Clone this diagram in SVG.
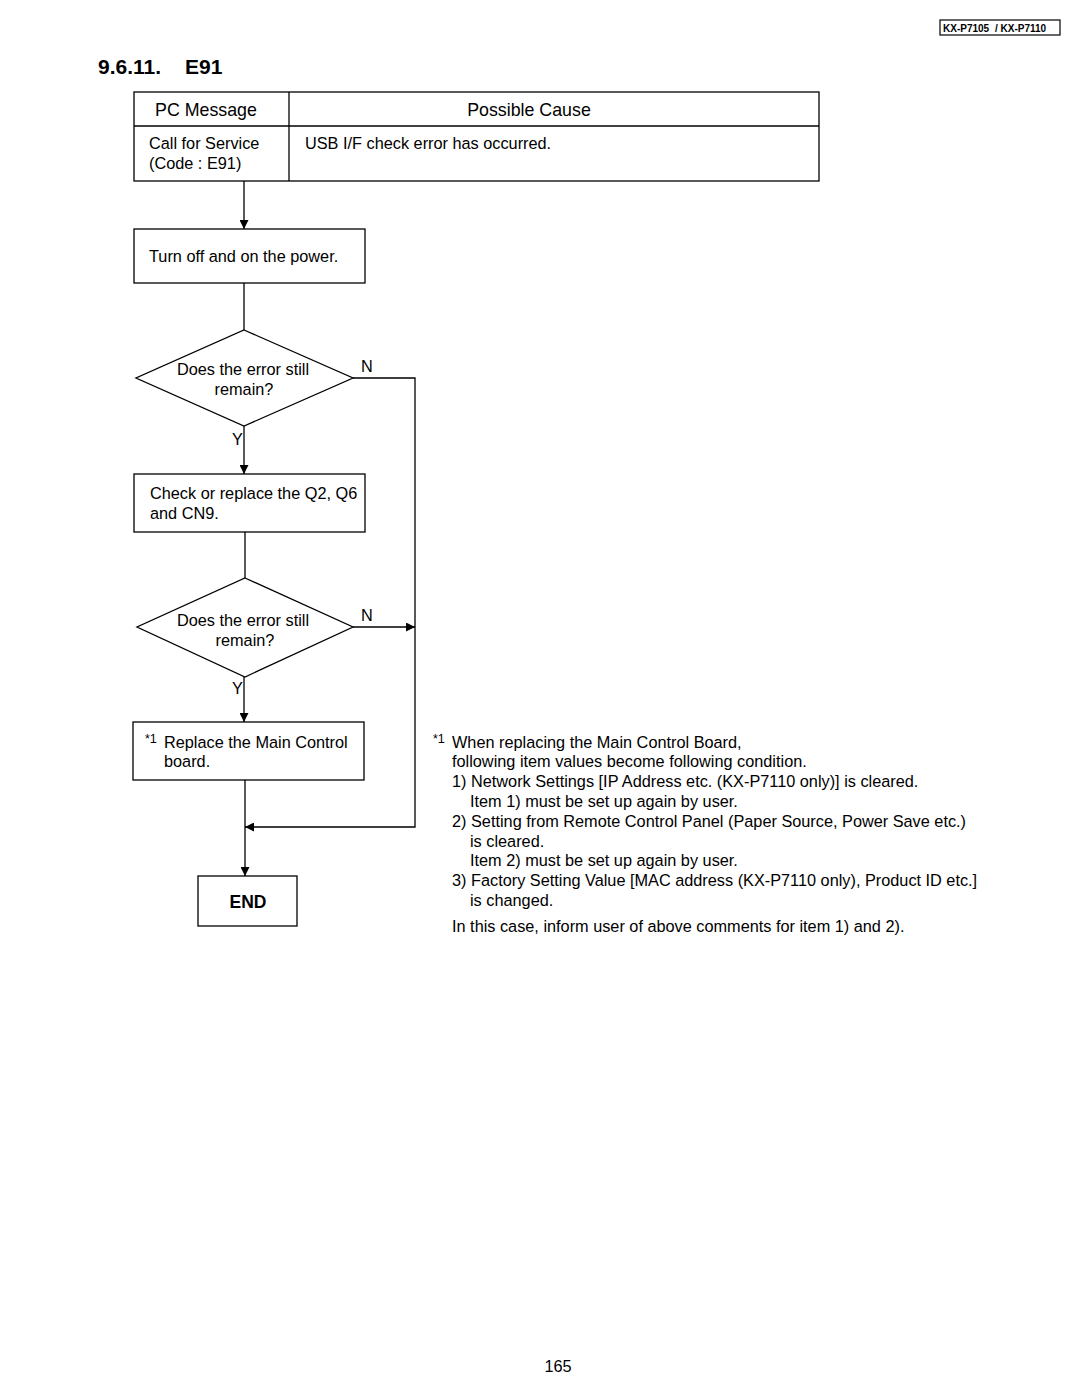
<svg xmlns="http://www.w3.org/2000/svg" width="1080" height="1397" viewBox="0 0 1080 1397">
<style>
text{font-family:"Liberation Sans",Arial,sans-serif;fill:#000}
.t{font-size:16.3px}
.h{font-size:17.8px}
.s{font-size:12.5px}
.box{fill:#fff;stroke:#000;stroke-width:1.3}
.ln{fill:none;stroke:#000;stroke-width:1.3}
</style>
<defs>
<marker id="ah" viewBox="0 0 10 10" refX="10" refY="5" markerWidth="9" markerHeight="9" markerUnits="userSpaceOnUse" orient="auto">
<path d="M0,0 L10,5 L0,10 z" fill="#000"/>
</marker>
</defs>
<rect width="1080" height="1397" fill="#fff"/>
<g id="header">
<rect x="940" y="20" width="120" height="15" fill="#fff" stroke="#000" stroke-width="1.2"/>
<text x="943" y="31.5" font-size="10" font-weight="bold">KX-P7105</text>
<text x="995" y="31.5" font-size="10" font-weight="bold">/ KX-P7110</text>
</g>
<g id="title">
<text x="98" y="74" font-size="21" font-weight="bold">9.6.11.</text>
<text x="185" y="74" font-size="21" font-weight="bold">E91</text>
</g>
<g id="table">
<rect class="box" x="134" y="92" width="685" height="89"/>
<line class="ln" x1="134" y1="126" x2="819" y2="126"/>
<line class="ln" x1="289" y1="92" x2="289" y2="181"/>
<text class="h" x="206" y="116" text-anchor="middle">PC Message</text>
<text class="h" x="529" y="116" text-anchor="middle">Possible Cause</text>
<text class="t" x="149" y="149">Call for Service</text>
<text class="t" x="149" y="169">(Code : E91)</text>
<text class="t" x="305" y="149">USB I/F check error has occurred.</text>
</g>
<g id="connectors">
<line class="ln" x1="244" y1="181" x2="244" y2="229" marker-end="url(#ah)"/>
<line class="ln" x1="244" y1="283" x2="244" y2="330"/>
<polyline class="ln" points="353,378 415,378 415,827 245,827" marker-end="url(#ah)"/>
<line class="ln" x1="244" y1="426" x2="244" y2="474" marker-end="url(#ah)"/>
<line class="ln" x1="245" y1="532" x2="245" y2="578"/>
<line class="ln" x1="353" y1="627" x2="415" y2="627" marker-end="url(#ah)"/>
<line class="ln" x1="244" y1="677" x2="244" y2="722" marker-end="url(#ah)"/>
<line class="ln" x1="245" y1="780" x2="245" y2="876" marker-end="url(#ah)"/>
<text class="t" x="361" y="372">N</text>
<text class="t" x="232" y="445">Y</text>
<text class="t" x="361" y="621">N</text>
<text class="t" x="232" y="694">Y</text>
</g>
<g id="n1">
<rect class="box" x="134" y="229" width="231" height="54"/>
<text class="t" x="149" y="262">Turn off and on the power.</text>
</g>
<g id="d1">
<polygon class="box" points="244,330 353,378 244,426 136,378"/>
<text class="t" x="243" y="375" text-anchor="middle">Does the error still</text>
<text class="t" x="244" y="395" text-anchor="middle">remain?</text>
</g>
<g id="n2">
<rect class="box" x="134" y="474" width="231" height="58"/>
<text class="t" x="150" y="499">Check or replace the Q2, Q6</text>
<text class="t" x="150" y="519">and CN9.</text>
</g>
<g id="d2">
<polygon class="box" points="245,578 353,627 245,677 137,627"/>
<text class="t" x="243" y="626" text-anchor="middle">Does the error still</text>
<text class="t" x="245" y="646" text-anchor="middle">remain?</text>
</g>
<g id="n3">
<rect class="box" x="133" y="722" width="231" height="58"/>
<text class="s" x="145" y="743">*1</text>
<text class="t" x="164" y="748">Replace the Main Control</text>
<text class="t" x="164" y="767">board.</text>
</g>
<g id="end">
<rect class="box" x="198" y="876" width="99" height="50"/>
<text x="248" y="908" font-size="17.5" font-weight="bold" text-anchor="middle">END</text>
</g>
<g id="note">
<text class="s" x="433" y="743">*1</text>
<text class="t" x="452" y="748">When replacing the Main Control Board,</text>
<text class="t" x="452" y="767">following item values become following condition.</text>
<text class="t" x="452" y="787">1) Network Settings [IP Address etc. (KX-P7110 only)] is cleared.</text>
<text class="t" x="470" y="807">Item 1) must be set up again by user.</text>
<text class="t" x="452" y="827">2) Setting from Remote Control Panel (Paper Source, Power Save etc.)</text>
<text class="t" x="470" y="847">is cleared.</text>
<text class="t" x="470" y="866">Item 2) must be set up again by user.</text>
<text class="t" x="452" y="886">3) Factory Setting Value [MAC address (KX-P7110 only), Product ID etc.]</text>
<text class="t" x="470" y="906">is changed.</text>
<text class="t" x="452" y="932">In this case, inform user of above comments for item 1) and 2).</text>
</g>
<text class="t" x="558" y="1372" text-anchor="middle">165</text>
</svg>
